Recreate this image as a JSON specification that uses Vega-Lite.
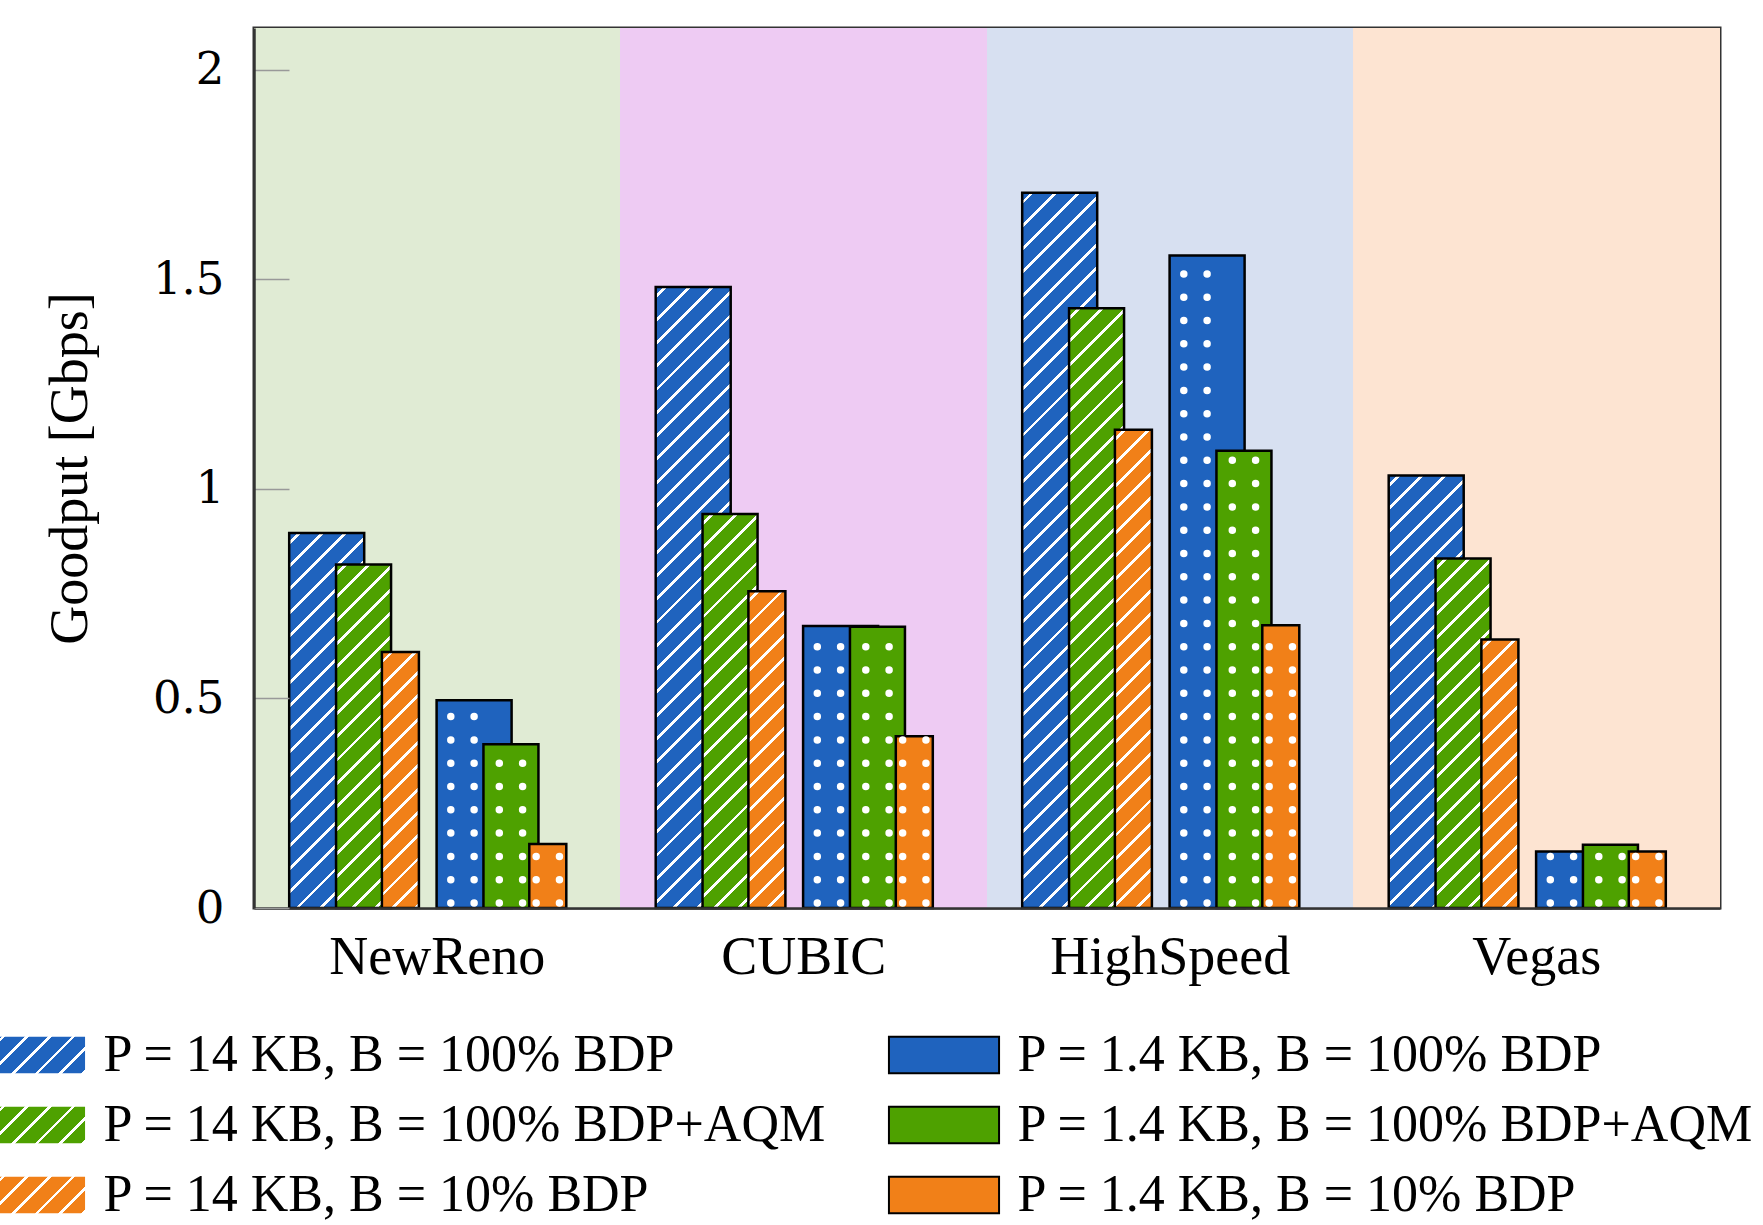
{
"$schema":"https://vega.github.io/schema/vega-lite/v6.json",
"width":1466,"height":880,
"autosize":{"type":"none"},
"padding":{"left":254,"top":28,"right":43,"bottom":317},
"background":"white",
"config":{"view":{"stroke":"#333","strokeWidth":3},"font":"Liberation Serif",
 "legend":{"title":null,"orient":"none","direction":"vertical","symbolType":"M-3,-1H3V1H-3Z","symbolSize":1347,"symbolStrokeColor":"black","symbolStrokeWidth":2,"symbolOpacity":1,"labelFont":"Liberation Serif","labelFontSize":52,"labelColor":"black","labelLimit":1500,"labelOffset":47.5,"rowPadding":18,"padding":0}},
"params":[
 {"name":"hs","value":[
{"offset":0.01,"color":"#fff0"},{"offset":0.01,"color":"#fff"},{"offset":0.0148,"color":"#fff"},{"offset":0.0148,"color":"#fff0"},
{"offset":0.0386,"color":"#fff0"},{"offset":0.0386,"color":"#fff"},{"offset":0.0434,"color":"#fff"},{"offset":0.0434,"color":"#fff0"},
{"offset":0.0671,"color":"#fff0"},{"offset":0.0671,"color":"#fff"},{"offset":0.0719,"color":"#fff"},{"offset":0.0719,"color":"#fff0"},
{"offset":0.0957,"color":"#fff0"},{"offset":0.0957,"color":"#fff"},{"offset":0.1005,"color":"#fff"},{"offset":0.1005,"color":"#fff0"},
{"offset":0.1243,"color":"#fff0"},{"offset":0.1243,"color":"#fff"},{"offset":0.1291,"color":"#fff"},{"offset":0.1291,"color":"#fff0"},
{"offset":0.1529,"color":"#fff0"},{"offset":0.1529,"color":"#fff"},{"offset":0.1577,"color":"#fff"},{"offset":0.1577,"color":"#fff0"},
{"offset":0.1814,"color":"#fff0"},{"offset":0.1814,"color":"#fff"},{"offset":0.1862,"color":"#fff"},{"offset":0.1862,"color":"#fff0"},
{"offset":0.21,"color":"#fff0"},{"offset":0.21,"color":"#fff"},{"offset":0.2148,"color":"#fff"},{"offset":0.2148,"color":"#fff0"},
{"offset":0.2386,"color":"#fff0"},{"offset":0.2386,"color":"#fff"},{"offset":0.2434,"color":"#fff"},{"offset":0.2434,"color":"#fff0"},
{"offset":0.2671,"color":"#fff0"},{"offset":0.2671,"color":"#fff"},{"offset":0.2719,"color":"#fff"},{"offset":0.2719,"color":"#fff0"},
{"offset":0.2957,"color":"#fff0"},{"offset":0.2957,"color":"#fff"},{"offset":0.3005,"color":"#fff"},{"offset":0.3005,"color":"#fff0"},
{"offset":0.3243,"color":"#fff0"},{"offset":0.3243,"color":"#fff"},{"offset":0.3291,"color":"#fff"},{"offset":0.3291,"color":"#fff0"},
{"offset":0.3529,"color":"#fff0"},{"offset":0.3529,"color":"#fff"},{"offset":0.3577,"color":"#fff"},{"offset":0.3577,"color":"#fff0"},
{"offset":0.3814,"color":"#fff0"},{"offset":0.3814,"color":"#fff"},{"offset":0.3862,"color":"#fff"},{"offset":0.3862,"color":"#fff0"},
{"offset":0.41,"color":"#fff0"},{"offset":0.41,"color":"#fff"},{"offset":0.4148,"color":"#fff"},{"offset":0.4148,"color":"#fff0"},
{"offset":0.4386,"color":"#fff0"},{"offset":0.4386,"color":"#fff"},{"offset":0.4434,"color":"#fff"},{"offset":0.4434,"color":"#fff0"},
{"offset":0.4671,"color":"#fff0"},{"offset":0.4671,"color":"#fff"},{"offset":0.4719,"color":"#fff"},{"offset":0.4719,"color":"#fff0"},
{"offset":0.4957,"color":"#fff0"},{"offset":0.4957,"color":"#fff"},{"offset":0.5005,"color":"#fff"},{"offset":0.5005,"color":"#fff0"},
{"offset":0.5243,"color":"#fff0"},{"offset":0.5243,"color":"#fff"},{"offset":0.5291,"color":"#fff"},{"offset":0.5291,"color":"#fff0"},
{"offset":0.5529,"color":"#fff0"},{"offset":0.5529,"color":"#fff"},{"offset":0.5577,"color":"#fff"},{"offset":0.5577,"color":"#fff0"},
{"offset":0.5814,"color":"#fff0"},{"offset":0.5814,"color":"#fff"},{"offset":0.5862,"color":"#fff"},{"offset":0.5862,"color":"#fff0"},
{"offset":0.61,"color":"#fff0"},{"offset":0.61,"color":"#fff"},{"offset":0.6148,"color":"#fff"},{"offset":0.6148,"color":"#fff0"},
{"offset":0.6386,"color":"#fff0"},{"offset":0.6386,"color":"#fff"},{"offset":0.6434,"color":"#fff"},{"offset":0.6434,"color":"#fff0"},
{"offset":0.6671,"color":"#fff0"},{"offset":0.6671,"color":"#fff"},{"offset":0.6719,"color":"#fff"},{"offset":0.6719,"color":"#fff0"},
{"offset":0.6957,"color":"#fff0"},{"offset":0.6957,"color":"#fff"},{"offset":0.7005,"color":"#fff"},{"offset":0.7005,"color":"#fff0"},
{"offset":0.7243,"color":"#fff0"},{"offset":0.7243,"color":"#fff"},{"offset":0.7291,"color":"#fff"},{"offset":0.7291,"color":"#fff0"},
{"offset":0.7529,"color":"#fff0"},{"offset":0.7529,"color":"#fff"},{"offset":0.7577,"color":"#fff"},{"offset":0.7577,"color":"#fff0"},
{"offset":0.7814,"color":"#fff0"},{"offset":0.7814,"color":"#fff"},{"offset":0.7862,"color":"#fff"},{"offset":0.7862,"color":"#fff0"},
{"offset":0.81,"color":"#fff0"},{"offset":0.81,"color":"#fff"},{"offset":0.8148,"color":"#fff"},{"offset":0.8148,"color":"#fff0"},
{"offset":0.8386,"color":"#fff0"},{"offset":0.8386,"color":"#fff"},{"offset":0.8434,"color":"#fff"},{"offset":0.8434,"color":"#fff0"},
{"offset":0.8671,"color":"#fff0"},{"offset":0.8671,"color":"#fff"},{"offset":0.8719,"color":"#fff"},{"offset":0.8719,"color":"#fff0"},
{"offset":0.8957,"color":"#fff0"},{"offset":0.8957,"color":"#fff"},{"offset":0.9005,"color":"#fff"},{"offset":0.9005,"color":"#fff0"},
{"offset":0.9243,"color":"#fff0"},{"offset":0.9243,"color":"#fff"},{"offset":0.9291,"color":"#fff"},{"offset":0.9291,"color":"#fff0"},
{"offset":0.9529,"color":"#fff0"},{"offset":0.9529,"color":"#fff"},{"offset":0.9577,"color":"#fff"},{"offset":0.9577,"color":"#fff0"},
{"offset":0.9814,"color":"#fff0"},{"offset":0.9814,"color":"#fff"},{"offset":0.9862,"color":"#fff"},{"offset":0.9862,"color":"#fff0"}
 ]},
 {"name":"gB","value":{"gradient":"linear","x1":0,"y1":0,"x2":1.3334,"y2":0.4449,"stops":[
{"offset":0.02,"color":"#1f63be"},{"offset":0.02,"color":"#fff"},{"offset":0.043,"color":"#fff"},{"offset":0.043,"color":"#1f63be"},
{"offset":0.163,"color":"#1f63be"},{"offset":0.163,"color":"#fff"},{"offset":0.186,"color":"#fff"},{"offset":0.186,"color":"#1f63be"},
{"offset":0.306,"color":"#1f63be"},{"offset":0.306,"color":"#fff"},{"offset":0.329,"color":"#fff"},{"offset":0.329,"color":"#1f63be"},
{"offset":0.449,"color":"#1f63be"},{"offset":0.449,"color":"#fff"},{"offset":0.472,"color":"#fff"},{"offset":0.472,"color":"#1f63be"},
{"offset":0.592,"color":"#1f63be"},{"offset":0.592,"color":"#fff"},{"offset":0.615,"color":"#fff"},{"offset":0.615,"color":"#1f63be"},
{"offset":0.735,"color":"#1f63be"},{"offset":0.735,"color":"#fff"},{"offset":0.758,"color":"#fff"},{"offset":0.758,"color":"#1f63be"},
{"offset":0.878,"color":"#1f63be"},{"offset":0.878,"color":"#fff"},{"offset":0.901,"color":"#fff"},{"offset":0.901,"color":"#1f63be"}]}},
 {"name":"gG","value":{"gradient":"linear","x1":0,"y1":0,"x2":1.3334,"y2":0.4449,"stops":[
{"offset":0.02,"color":"#4ea100"},{"offset":0.02,"color":"#fff"},{"offset":0.043,"color":"#fff"},{"offset":0.043,"color":"#4ea100"},
{"offset":0.163,"color":"#4ea100"},{"offset":0.163,"color":"#fff"},{"offset":0.186,"color":"#fff"},{"offset":0.186,"color":"#4ea100"},
{"offset":0.306,"color":"#4ea100"},{"offset":0.306,"color":"#fff"},{"offset":0.329,"color":"#fff"},{"offset":0.329,"color":"#4ea100"},
{"offset":0.449,"color":"#4ea100"},{"offset":0.449,"color":"#fff"},{"offset":0.472,"color":"#fff"},{"offset":0.472,"color":"#4ea100"},
{"offset":0.592,"color":"#4ea100"},{"offset":0.592,"color":"#fff"},{"offset":0.615,"color":"#fff"},{"offset":0.615,"color":"#4ea100"},
{"offset":0.735,"color":"#4ea100"},{"offset":0.735,"color":"#fff"},{"offset":0.758,"color":"#fff"},{"offset":0.758,"color":"#4ea100"},
{"offset":0.878,"color":"#4ea100"},{"offset":0.878,"color":"#fff"},{"offset":0.901,"color":"#fff"},{"offset":0.901,"color":"#4ea100"}]}},
 {"name":"gO","value":{"gradient":"linear","x1":0,"y1":0,"x2":1.3334,"y2":0.4449,"stops":[
{"offset":0.02,"color":"#f18018"},{"offset":0.02,"color":"#fff"},{"offset":0.043,"color":"#fff"},{"offset":0.043,"color":"#f18018"},
{"offset":0.163,"color":"#f18018"},{"offset":0.163,"color":"#fff"},{"offset":0.186,"color":"#fff"},{"offset":0.186,"color":"#f18018"},
{"offset":0.306,"color":"#f18018"},{"offset":0.306,"color":"#fff"},{"offset":0.329,"color":"#fff"},{"offset":0.329,"color":"#f18018"},
{"offset":0.449,"color":"#f18018"},{"offset":0.449,"color":"#fff"},{"offset":0.472,"color":"#fff"},{"offset":0.472,"color":"#f18018"},
{"offset":0.592,"color":"#f18018"},{"offset":0.592,"color":"#fff"},{"offset":0.615,"color":"#fff"},{"offset":0.615,"color":"#f18018"},
{"offset":0.735,"color":"#f18018"},{"offset":0.735,"color":"#fff"},{"offset":0.758,"color":"#fff"},{"offset":0.758,"color":"#f18018"},
{"offset":0.878,"color":"#f18018"},{"offset":0.878,"color":"#fff"},{"offset":0.901,"color":"#fff"},{"offset":0.901,"color":"#f18018"}]}}
],
"data":{"values":[
{"cc":"NewReno","s":"h100","g":0.895},{"cc":"NewReno","s":"hAQM","g":0.82},{"cc":"NewReno","s":"h10","g":0.611},
{"cc":"NewReno","s":"d100","g":0.496},{"cc":"NewReno","s":"dAQM","g":0.391},{"cc":"NewReno","s":"d10","g":0.153},
{"cc":"CUBIC","s":"h100","g":1.482},{"cc":"CUBIC","s":"hAQM","g":0.94},{"cc":"CUBIC","s":"h10","g":0.756},
{"cc":"CUBIC","s":"d100","g":0.673},{"cc":"CUBIC","s":"dAQM","g":0.671},{"cc":"CUBIC","s":"d10","g":0.41},
{"cc":"HighSpeed","s":"h100","g":1.707},{"cc":"HighSpeed","s":"hAQM","g":1.431},{"cc":"HighSpeed","s":"h10","g":1.141},
{"cc":"HighSpeed","s":"d100","g":1.557},{"cc":"HighSpeed","s":"dAQM","g":1.091},{"cc":"HighSpeed","s":"d10","g":0.675},
{"cc":"Vegas","s":"h100","g":1.032},{"cc":"Vegas","s":"hAQM","g":0.834},{"cc":"Vegas","s":"h10","g":0.641},
{"cc":"Vegas","s":"d100","g":0.135},{"cc":"Vegas","s":"dAQM","g":0.151},{"cc":"Vegas","s":"d10","g":0.135}
]},
"layer":[
 {"mark":{"type":"rect"},
  "encoding":{
   "x":{"field":"cc","type":"nominal","title":null,"scale":{"domain":["NewReno","CUBIC","HighSpeed","Vegas"],"paddingInner":0,"paddingOuter":0},
        "axis":{"labelFont":"Liberation Serif","labelFontSize":54,"labelColor":"black","labelAngle":0,"labelLimit":600,"ticks":false,"labelPadding":22,"domainColor":"#333","domainWidth":2.5,"zindex":1}},
   "y":{"datum":2.1,"type":"quantitative","title":"Goodput [Gbps]","scale":{"domain":[0,2.1],"nice":false},
        "axis":{"values":[0,0.5,1,1.5,2],"format":"~g","labelFont":"DejaVu Serif","labelFontSize":45,"labelColor":"black","tickSize":-35,"tickColor":"#999","tickWidth":1.5,"labelPadding":65,"domainColor":"#333","domainWidth":2.5,"grid":false,"titleFont":"Liberation Serif","titleFontSize":54,"titleFontWeight":"normal","titleColor":"black","titlePadding":55,"zindex":1}},
   "y2":{"datum":0},
   "fill":{"field":"cc","type":"nominal","scale":{"domain":["NewReno","CUBIC","HighSpeed","Vegas"],"range":["#e0ebd4","#eecbf3","#d7e0f1","#fde4d2"]},"legend":null}
  }},
 {"encoding":{
   "x":{"field":"cc","type":"nominal","title":null},
   "y":{"field":"g","type":"quantitative","stack":null,"title":"Goodput [Gbps]"}},
  "layer":[
   {"encoding":{"xOffset":{"field":"s","type":"nominal","scale":{"domain":["p1","h100","hAQM","h10","gap","d100","dAQM","d10","p2"],"paddingInner":0,"paddingOuter":0.473}}},
    "layer":[
     {"transform":[{"filter":"datum.s=='h100'"}],"layer":[
       {"mark":{"type":"bar","width":75},"encoding":{
          "fill":{"field":"s","type":"nominal","scale":{"domain":["h100","hAQM","h10"],"range":["#1f63be","#4ea100","#f18018"]},"legend":null}}},
       {"mark":{"type":"bar","width":75,"stroke":"black","strokeWidth":2.5,"fill":{"expr":"{gradient:'linear',x1:0,y1:0,x2:61162.5/(5625+pow(datum.g*419.05,2)),y2:datum.g*341735/(5625+pow(datum.g*419.05,2)),stops:hs}"}}}
     ]},
     {"transform":[{"filter":"datum.s=='hAQM'"}],"layer":[
       {"mark":{"type":"bar","width":55},"encoding":{
          "fill":{"field":"s","type":"nominal","scale":{"domain":["h100","hAQM","h10"],"range":["#1f63be","#4ea100","#f18018"]},"legend":null}}},
       {"mark":{"type":"bar","width":55,"stroke":"black","strokeWidth":2.5,"fill":{"expr":"{gradient:'linear',x1:0,y1:0,x2:44852.5/(3025+pow(datum.g*419.05,2)),y2:datum.g*341735/(3025+pow(datum.g*419.05,2)),stops:hs}"}}}
     ]},
     {"transform":[{"filter":"datum.s=='h10'"}],"layer":[
       {"mark":{"type":"bar","width":37},"encoding":{
          "fill":{"field":"s","type":"nominal","scale":{"domain":["h100","hAQM","h10"],"range":["#1f63be","#4ea100","#f18018"]},"legend":null}}},
       {"mark":{"type":"bar","width":37,"stroke":"black","strokeWidth":2.5,"fill":{"expr":"{gradient:'linear',x1:0,y1:0,x2:30173.5/(1369+pow(datum.g*419.05,2)),y2:datum.g*341735/(1369+pow(datum.g*419.05,2)),stops:hs}"}}}
     ]},
     {"transform":[{"filter":"false"}],
      "mark":{"type":"bar","width":75,"stroke":"black","strokeWidth":2,"fill":{"expr":"datum.value=='h100'?gB:datum.value=='hAQM'?gG:gO"}},
      "encoding":{"opacity":{"field":"s","type":"ordinal","scale":{"domain":["h100","hAQM","h10"],"range":[1,1,1]},
          "legend":{"legendX":-250,"legendY":1001,
            "labelExpr":"{'h100':'P = 14 KB, B = 100% BDP','hAQM':'P = 14 KB, B = 100% BDP+AQM','h10':'P = 14 KB, B = 10% BDP'}[datum.label]"}}}}
   ]},
   {"encoding":{"xOffset":{"field":"s","type":"nominal","scale":{"domain":["p1","h100","hAQM","h10","gap","d100","dAQM","d10","p2"],"paddingInner":0,"paddingOuter":0.473}}},
    "layer":[
     {"transform":[{"filter":"datum.s=='d100'"}],"layer":[
       {"mark":{"type":"bar","width":75,"stroke":"black","strokeWidth":2.5},"encoding":{
          "fill":{"field":"s","type":"nominal","scale":{"domain":["d100","dAQM","d10"],"range":["#1f63be","#4ea100","#f18018"]},
          "legend":{"legendX":664,"legendY":1001,
            "labelExpr":"{'d100':'P = 1.4 KB, B = 100% BDP','dAQM':'P = 1.4 KB, B = 100% BDP+AQM','d10':'P = 1.4 KB, B = 10% BDP'}[datum.label]"}}}}
     ]},
     {"transform":[{"filter":"datum.s=='dAQM'"}],"layer":[
       {"mark":{"type":"bar","width":55,"stroke":"black","strokeWidth":2.5},"encoding":{
          "fill":{"field":"s","type":"nominal","scale":{"domain":["d100","dAQM","d10"],"range":["#1f63be","#4ea100","#f18018"]}}}}
     ]},
     {"transform":[{"filter":"datum.s=='d10'"}],"layer":[
       {"mark":{"type":"bar","width":37,"stroke":"black","strokeWidth":2.5},"encoding":{
          "fill":{"field":"s","type":"nominal","scale":{"domain":["d100","dAQM","d10"],"range":["#1f63be","#4ea100","#f18018"]}}}}
     ]}
   ]},
   {"layer":[
     {"transform":[{"filter":"datum.s=='d100'"}],"layer":[
       {"mark":{"type":"rule","color":"white","strokeWidth":7.5,"strokeCap":"round","strokeDash":[0,23.3],"strokeDashOffset":{"expr":"5-datum.g*419.05"},"xOffset":13.55},"encoding":{"y2":{"datum":0}}},
       {"mark":{"type":"rule","color":"white","strokeWidth":7.5,"strokeCap":"round","strokeDash":[0,23.3],"strokeDashOffset":{"expr":"5-datum.g*419.05"},"xOffset":36.85},"encoding":{"y2":{"datum":0}}}
     ]},
     {"transform":[{"filter":"datum.s=='dAQM'"}],"layer":[
       {"mark":{"type":"rule","color":"white","strokeWidth":7.5,"strokeCap":"round","strokeDash":[0,23.3],"strokeDashOffset":{"expr":"5-datum.g*419.05"},"xOffset":62.05},"encoding":{"y2":{"datum":0}}},
       {"mark":{"type":"rule","color":"white","strokeWidth":7.5,"strokeCap":"round","strokeDash":[0,23.3],"strokeDashOffset":{"expr":"5-datum.g*419.05"},"xOffset":85.35},"encoding":{"y2":{"datum":0}}}
     ]},
     {"transform":[{"filter":"datum.s=='d10'"}],"layer":[
       {"mark":{"type":"rule","color":"white","strokeWidth":7.5,"strokeCap":"round","strokeDash":[0,23.3],"strokeDashOffset":{"expr":"5-datum.g*419.05"},"xOffset":98.9},"encoding":{"y2":{"datum":0}}},
       {"mark":{"type":"rule","color":"white","strokeWidth":7.5,"strokeCap":"round","strokeDash":[0,23.3],"strokeDashOffset":{"expr":"5-datum.g*419.05"},"xOffset":122.2},"encoding":{"y2":{"datum":0}}}
     ]}
   ]}
  ],
  "resolve":{"scale":{"fill":"independent"}}}
],
"resolve":{"scale":{"fill":"independent"}}
}
